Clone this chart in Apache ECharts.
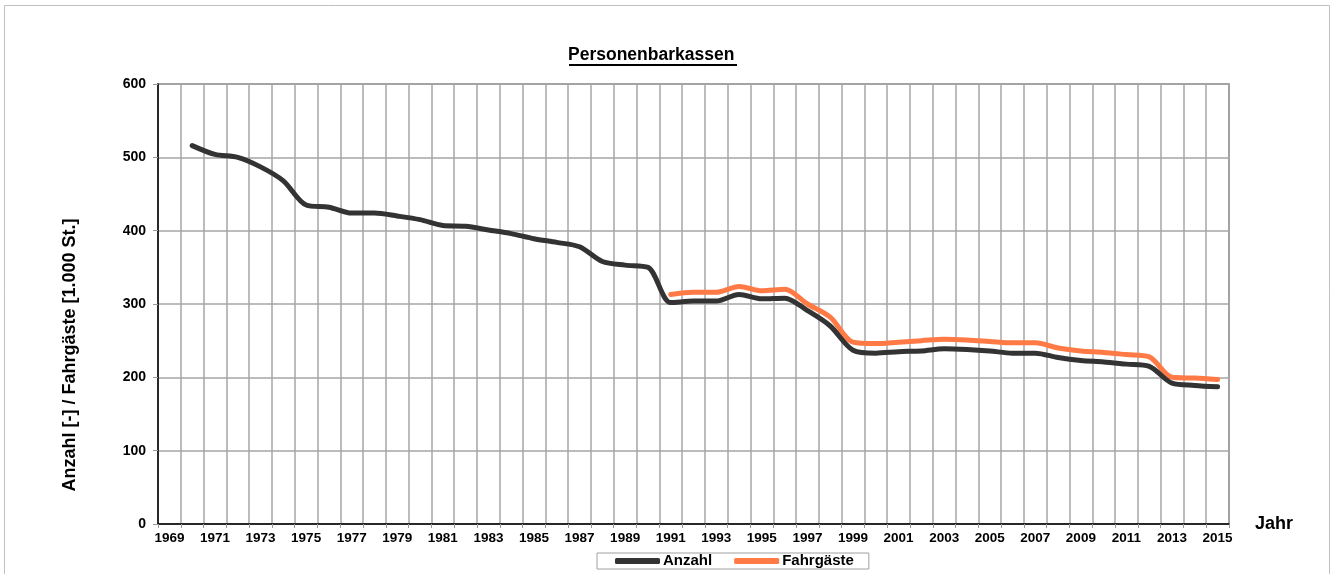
<!DOCTYPE html>
<html>
<head>
<meta charset="utf-8">
<title>Personenbarkassen</title>
<script src="https://cdn.jsdelivr.net/npm/echarts@6/dist/echarts.min.js"></script>
<style>
  html, body { margin: 0; padding: 0; background: #fff; }
  #lineChart { width: 1334px; height: 574px; }
</style>
</head>
<body>
<div id="lineChart"></div>
<script>
// Jahre 1969 - 2015
const years = [];
for (let y = 1969; y <= 2015; y++) years.push(String(y));

const anzahl = [
  null, 516, 504, 500, 487, 468, 435, 432, 424, 424,
  420, 415, 407, 406, 401, 396, 389, 384, 378, 358,
  353, 350, 302, 304, 304, 313, 307, 308, 291, 270,
  237, 233, 235, 236, 239, 238, 236, 233, 233, 227,
  223, 221, 218, 215, 192, 189, 187
];

// Fahrgaeste erst ab 1991
const fahrgaeste = [
  null, null, null, null, null, null, null, null, null, null,
  null, null, null, null, null, null, null, null, null, null,
  null, null, 313, 316, 316, 324, 318, 320, 300, 282,
  248, 246, 248, 250, 252, 251, 249, 247, 247, 240,
  236, 234, 231, 228, 200, 199, 197
];

const yTicks = [0, 100, 200, 300, 400, 500, 600];

const font = '"Liberation Sans", Arial, sans-serif';
const chart = echarts.init(document.getElementById('lineChart'));

let option = {
  animation: false,
  textStyle: { fontFamily: font },
  title: {
    text: 'Personenbarkassen',
    left: 568,
    top: 46,
    padding: 0,
    textStyle: { fontSize: 17.5, fontWeight: 'bold', color: '#000', fontFamily: font }
  },
  legend: {
    data: ['Anzahl', 'Fahrgäste'],
    left: 597,
    top: 553,
    padding: [0, 15, 0, 18],
    borderColor: '#a0a0a0',
    borderWidth: 1,
    itemGap: 22,
    itemWidth: 45,
    itemHeight: 6,
    icon: 'roundRect',
    textStyle: { fontSize: 15, fontWeight: 'bold', color: '#000', padding: [0, 0, 0, -2], lineHeight: 16 }
  },
  grid: {
    left: 158,
    right: 105,
    top: 84,
    bottom: 50,
    show: true,
    borderColor: '#7a7a7a',
    borderWidth: 1.5
  },
  xAxis: {
    type: 'category',
    data: years,
    boundaryGap: true,
    name: 'Jahr',
    nameLocation: 'end',
    nameGap: 26,
    nameTextStyle: { fontSize: 18, fontWeight: 'bold', color: '#000' },
    axisLine: { lineStyle: { color: '#000', width: 1.5 } },
    axisTick: { show: true, interval: 0, length: 4, lineStyle: { color: '#999' } },
    axisLabel: { interval: 1, fontSize: 13.5, fontWeight: 'bold', color: '#000', margin: 7 },
    splitLine: { show: true, interval: 0, lineStyle: { color: '#a6a6a6', width: 1.5 } }
  },
  yAxis: {
    type: 'value',
    min: yTicks[0],
    max: yTicks[yTicks.length - 1],
    interval: 100,
    axisLine: { show: true, lineStyle: { color: '#000', width: 1.5 } },
    axisTick: { show: true, length: 5, lineStyle: { color: '#999' } },
    axisLabel: { fontSize: 14, fontWeight: 'bold', color: '#000', margin: 12 },
    splitLine: { show: true, lineStyle: { color: '#a6a6a6', width: 1.5 } }
  },
  graphic: [
    {
      type: 'rect',
      shape: { x: 4.5, y: 5.5, width: 1325, height: 580 },
      style: { fill: null, stroke: '#c0c0c0', lineWidth: 1 },
      silent: true
    },
    {
      // Unterstreichung Titel
      type: 'rect',
      shape: { x: 569, y: 64, width: 168, height: 2 },
      style: { fill: '#000' },
      silent: true
    },
    {
      type: 'text',
      x: 70,
      y: 355,
      rotation: Math.PI / 2,
      style: {
        text: 'Anzahl [-] / Fahrgäste [1.000 St.]',
        font: 'bold 18px ' + font,
        fill: '#000',
        align: 'center',
        verticalAlign: 'middle'
      },
      silent: true
    }
  ]
};

let series = [
  {
    name: 'Anzahl',
    type: 'line',
    data: anzahl,
    smooth: 0.3,
    showSymbol: false,
    symbol: 'none',
    color: '#333333',
    lineStyle: { width: 5, color: '#333333', cap: 'round' },
    z: 3
  },
  {
    name: 'Fahrgäste',
    type: 'line',
    data: fahrgaeste,
    smooth: 0.3,
    showSymbol: false,
    symbol: 'none',
    color: '#ff7a45',
    lineStyle: { width: 5, color: '#ff7a45', cap: 'round' },
    z: 2
  }
];
option['series'] = series;

chart.setOption(option);
</script>
</body>
</html>
